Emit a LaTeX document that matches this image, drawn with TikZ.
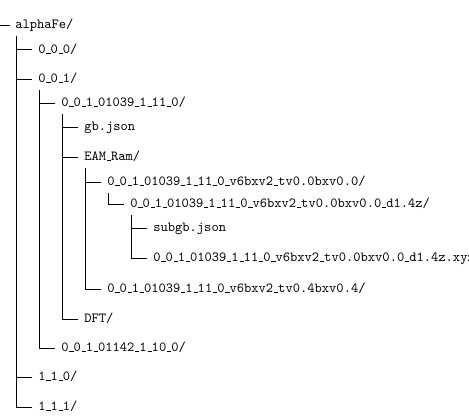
\documentclass[tikz,border=0pt]{standalone}
\usetikzlibrary{calc}
\newcommand\usc{\leavevmode\kern.06em\vbox{\hrule width.3em}}
\begin{document}
\begin{tikzpicture}[x=0.75pt,y=-0.75pt,
  entry/.style={anchor=west,inner sep=0pt,font=\ttfamily\fontsize{10.4}{12}\selectfont,text height=1.5ex,text depth=.25ex},
  branch/.style={line width=0.7pt}]
\useasboundingbox (0,0) rectangle (469,420);
\node[entry] (root) at (15,25) {alphaFe/};
\node[entry] (a) at (38,49.5) {0\usc0\usc0/};
\node[entry] (b) at (38,79) {0\usc0\usc1/};
\node[entry] (c) at (61,103) {0\usc0\usc1\usc01039\usc1\usc11\usc0/};
\node[entry] (d) at (84,127) {gb.json};
\node[entry] (e) at (84,157) {EAM\usc Ram/};
\node[entry] (f) at (107,182) {0\usc0\usc1\usc01039\usc1\usc11\usc0\usc v6bxv2\usc tv0.0bxv0.0/};
\node[entry] (g) at (130,204) {0\usc0\usc1\usc01039\usc1\usc11\usc0\usc v6bxv2\usc tv0.0bxv0.0\usc d1.4z/};
\node[entry] (h) at (153,228) {subgb.json};
\node[entry] (i) at (153,258) {0\usc0\usc1\usc01039\usc1\usc11\usc0\usc v6bxv2\usc tv0.0bxv0.0\usc d1.4z.xyz};
\node[entry] (j) at (107,289) {0\usc0\usc1\usc01039\usc1\usc11\usc0\usc v6bxv2\usc tv0.4bxv0.4/};
\node[entry] (k) at (84,319) {DFT/};
\node[entry] (l) at (61,348) {0\usc0\usc1\usc01142\usc1\usc10\usc0/};
\node[entry] (m) at (38,377) {1\usc1\usc0/};
\node[entry] (n) at (38,407) {1\usc1\usc1/};
\coordinate (r0) at (0,25);
\draw[branch] (r0) -- ($(root.west)+(-5,0)$);
\foreach \p/\c in {root/a,root/b,root/m,root/n,b/c,b/l,c/d,c/e,c/k,e/f,e/j,f/g,g/h,g/i}
  \draw[branch] ($(\p.west)+(1.6,11)$) |- ($(\c.west)+(-6,0)$);
\end{tikzpicture}
\end{document}
